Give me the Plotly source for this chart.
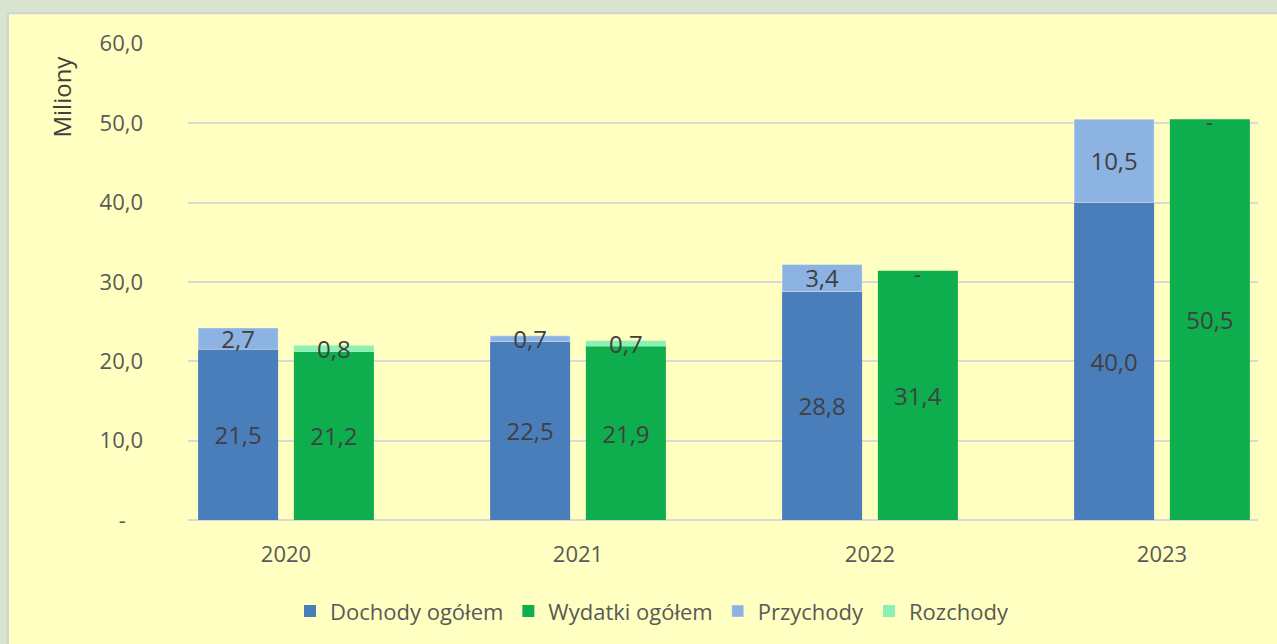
import plotly.graph_objects as go

# ---- data ----
years = ["2020", "2021", "2022", "2023"]
dochody = [21.5, 22.5, 28.8, 40.0]      # Dochody ogółem
przychody = [2.7, 0.7, 3.4, 10.5]      # Przychody (stacked on Dochody)
wydatki = [21.2, 21.9, 31.4, 50.5]     # Wydatki ogółem
rozchody = [0.8, 0.7, 0.0, 0.0]        # Rozchody (stacked on Wydatki)
y_tickvals = [0, 10, 20, 30, 40, 50, 60]
y_ticktext = ["-\u00a0\u00a0\u00a0", "10,0", "20,0", "30,0", "40,0", "50,0", "60,0"]

def fmt(v):
    return "-" if v == 0 else f"{v:.1f}".replace(".", ",")

xi = list(range(len(years)))
W = 0.274
OFF_L = -0.301
OFF_R = 0.027

C_DOCH = "#4A7EBB"
C_WYD = "#0EAD4E"
C_PRZ = "#8DB3E2"
C_ROZ = "#8CF0B4"
LBL = dict(family="Open Sans", size=24, color="#404040")

fig = go.Figure()
common = dict(width=W, textposition="inside", insidetextanchor="middle",
              textangle=0, constraintext="none", textfont=LBL,
              cliponaxis=False, hoverinfo="skip")

fig.add_trace(go.Bar(name="Dochody ogółem", x=xi, y=dochody, offset=OFF_L,
                     marker=dict(color=C_DOCH, line=dict(width=0)),
                     text=[fmt(v) for v in dochody], **common))
fig.add_trace(go.Bar(name="Wydatki ogółem", x=xi, y=wydatki, offset=OFF_R,
                     marker=dict(color=C_WYD, line=dict(width=0)),
                     text=[fmt(v) for v in wydatki], **common))
fig.add_trace(go.Bar(name="Przychody", x=xi, y=przychody, base=dochody, offset=OFF_L,
                     marker=dict(color=C_PRZ, line=dict(width=1, color="rgba(255,255,255,0.35)")),
                     text=[fmt(v) for v in przychody], **common))
fig.add_trace(go.Bar(name="Rozchody", x=xi, y=rozchody, base=wydatki, offset=OFF_R,
                     marker=dict(color=C_ROZ, line=dict(width=0)),
                     text=[fmt(v) for v in rozchody], **common))

YMAX = 60.1
L, R, T, B = 188, 19, 43, 120
Wd, Ht = 1277, 644
pw, ph = Wd - L - R, Ht - T - B

def px(xp):
    return (xp - L) / pw

def py(yp):
    return (Ht - B - yp) / ph

# "-" labels for zero-height Rozchody segments (plotly draws no text on empty bars)
zero_labels = [dict(x=xi[i] + OFF_R + W / 2, y=wydatki[i] + rozchody[i],
                    xref="x", yref="y", text=fmt(rozchody[i]), showarrow=False,
                    xanchor="center", yanchor="middle", yshift=-2,
                    font=dict(family="Open Sans", size=22, color="#404040"))
               for i, v in enumerate(rozchody) if v == 0]

fig.update_layout(
    width=Wd, height=Ht,
    margin=dict(l=L, r=R, t=T, b=B, pad=0),
    barmode="overlay",
    paper_bgcolor="#D8E4CF",
    plot_bgcolor="rgba(0,0,0,0)",
    separators=", ",
    font=dict(family="Open Sans", color="#595959"),
    showlegend=True,
    legend=dict(orientation="h", x=px(652), xanchor="center", y=py(616), yanchor="middle",
                font=dict(family="Open Sans", size=22, color="#595959"),
                bgcolor="rgba(0,0,0,0)", traceorder="normal"),
    xaxis=dict(range=[-0.3356, 3.3288], tickvals=xi, ticktext=years,
               showgrid=False, zeroline=False, showline=False, ticks="",
               tickfont=dict(family="Open Sans", size=22, color="#595959"),
               ticklabelstandoff=19, fixedrange=True),
    yaxis=dict(range=[0, YMAX], tickvals=y_tickvals, ticktext=y_ticktext,
               showgrid=True, gridcolor="#D9D9D9", gridwidth=2,
               zeroline=True, zerolinecolor="#D9D9D9", zerolinewidth=2,
               showline=False, ticks="",
               tickfont=dict(family="Open Sans", size=22, color="#595959"),
               ticklabelstandoff=44, fixedrange=True),
    shapes=[dict(type="rect", xref="paper", yref="paper",
                 x0=px(8), x1=px(1285), y0=py(650), y1=py(13),
                 fillcolor="#FFFFC1", line=dict(color="#D3D3D3", width=2),
                 layer="below")],
    annotations=[dict(text="Miliony", xref="paper", yref="paper",
                      x=px(62), y=py(97), xanchor="center", yanchor="middle",
                      textangle=-90, showarrow=False,
                      font=dict(family="Open Sans", size=24, color="#404040"))] + zero_labels,
)

fig.write_html(
    "out.html",
    config={"displayModeBar": False},
    post_script="document.body.style.margin='0';document.body.style.overflow='hidden';"
                "document.body.style.background='#D8E4CF';",
)
